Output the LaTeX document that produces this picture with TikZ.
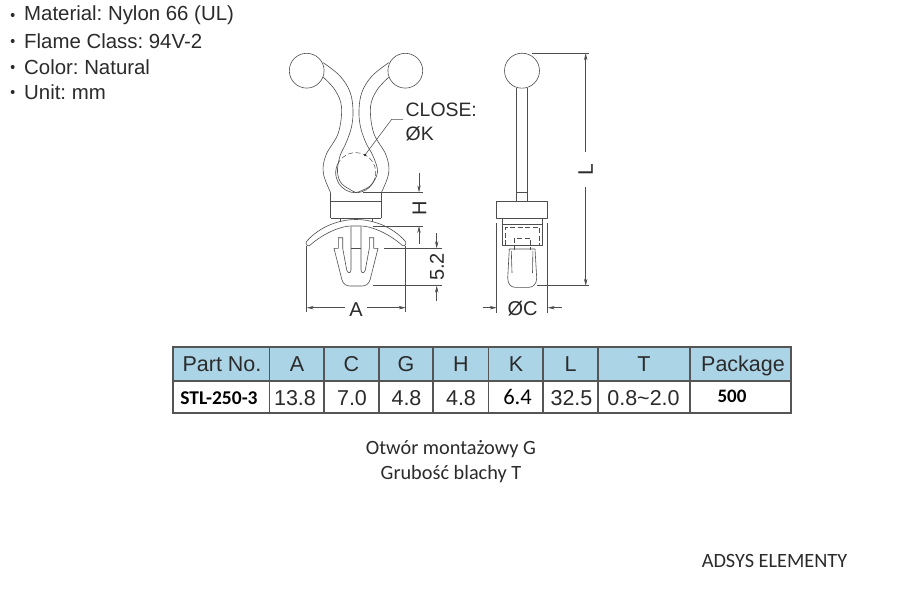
\documentclass[tikz,border=0pt]{standalone}
\usepackage{fontspec}
\setmainfont{Liberation Sans}
\newfontfamily\calfont{Carlito}
\usetikzlibrary{arrows.meta}
\definecolor{ink}{HTML}{4E4E4E}
\definecolor{gridc}{HTML}{555555}
\definecolor{headblue}{HTML}{ABD4E6}
\definecolor{txt}{HTML}{2B2B2B}
\frenchspacing
\tikzset{
  part/.style={draw=ink,line width=0.6pt,line join=round},
  hid/.style={draw=ink,line width=0.5pt,dash pattern=on 5pt off 2.5pt},
  dimline/.style={draw=ink,line width=0.55pt},
  dimarrow/.style={dimline,-{Stealth[length=7pt,width=3.4pt]}},
  dimtext/.style={inner sep=0pt,text=txt,font=\fontsize{20}{20}\selectfont},
  spec/.style={anchor=west,inner sep=0pt,text=txt,font=\fontsize{20.4}{21}\selectfont},
  dotb/.style={fill=txt,draw=none,circle,inner sep=0pt,minimum size=4pt},
  cell/.style={inner sep=0pt,text=txt,font=\fontsize{21.5}{22}\selectfont},
  boldv/.style={inner sep=0pt,text=black,font=\calfont\bfseries\fontsize{19.5}{20}\selectfont},
  note/.style={inner sep=0pt,anchor=base,text=txt,font=\calfont\fontsize{20.3}{21}\selectfont},
  grid/.style={draw=gridc,line width=1.1pt},
}
\begin{document}
\begin{tikzpicture}[x=1pt,y=-1pt]
\useasboundingbox (0,0) rectangle (909,596);
\fill[white] (0,0) rectangle (909,596);

% spec list
\foreach \n/\yy/\t in {a/15/{Material: Nylon 66 (UL)},b/41/{Flame Class: 94V-2},c/67/{Color: Natural},d/92/{Unit: mm}}{
  \node[dotb] (dot\n) at (12.7,\yy) {};
  \node[spec] (spec\n) at (24,\yy) {\t};
}

% ---------- front view ----------
\draw[part] (306.7,70.7) circle[radius=17.4pt];
\draw[part] (405.3,70.7) circle[radius=17.4pt];
% left arm
\draw[part] plot[smooth,tension=0.6] coordinates {(323.3,62.7) (340,76) (350,92) (353,110) (351.5,127) (346,143) (340,156) (337.5,172) (342,184) (356,192.7)};
\draw[part] plot[smooth,tension=0.6] coordinates {(323.3,77.3) (335,90) (341.5,107) (338.3,133) (326,155) (323.3,173) (330.7,192.7)};
% right arm
\draw[part] plot[smooth,tension=0.6] coordinates {(388.7,62.7) (372,76) (362,92) (359,110) (360.5,127) (366,143) (373,156) (377.5,172) (370,186) (356,192.7)};
\draw[part] plot[smooth,tension=0.6] coordinates {(388.7,77.3) (377,90) (370.5,107) (373.7,133) (386,155) (388.7,173) (381.3,192.7)};
% pocket circle
\draw[part] (375.02,177.9) arc[start angle=-15,end angle=-205,radius=20pt];
\draw[hid] (337.6,164.2) arc[start angle=155,end angle=-10,radius=20pt];
% body
\draw[part] (330.7,192.7) -- (330.7,218.3) (381.3,192.7) -- (381.3,218.3);
\draw[part] (330.7,201.7) -- (381.3,201.7) (330.7,218.3) -- (381.3,218.3);
\draw[part] (340,218.3) -- (340,221.5) (372,218.3) -- (372,221.5);
% washer
\draw[part] (309.6,245.5) .. controls (325,232) and (342,226) .. (351,226) -- (361,226) .. controls (370,226) and (387,232) .. (402.4,245.5)
  .. controls (404.5,247) and (407,243.5) .. (405.5,241.5)
  .. controls (392,226) and (372,219.5) .. (356,219.5)
  .. controls (340,219.5) and (320,226) .. (306.5,241.5)
  .. controls (305,243.5) and (307.5,247) .. (309.6,245.5) -- cycle;
% barb
\draw[part] (351,226.5) -- (351,270) .. controls (351,273.5) and (347.5,273.5) .. (346.7,270) -- (342.7,248.3) -- (342.7,237.7) -- (338.3,237.7) -- (338.3,248.3) -- (334,248.3)
 -- (341.7,279) .. controls (343,284) and (346,286) .. (350,286) -- (362,286) .. controls (366,286) and (369,284) .. (370.3,279) -- (378,248.3) -- (373.7,248.3) -- (373.7,237.7) -- (369.3,237.7) -- (369.3,248.3) -- (365.3,270) .. controls (364.5,273.5) and (361,273.5) .. (361,270) -- (361,226.5);
\draw[part] (351,248.3) -- (361,248.3);

% H dimension
\coordinate (hupL) at (363,192.3); \coordinate (hupR) at (423,192.3);
\coordinate (hloL) at (373,226); \coordinate (hloR) at (423,226);
\draw[dimline] (hupL) -- (hupR) (hloL) -- (hloR);
\coordinate (hTop) at (419,173); \coordinate (hTopTip) at (419,192.3);
\coordinate (hBot) at (419,244); \coordinate (hBotTip) at (419,226);
\draw[dimarrow] (hTop) -- (hTopTip);
\draw[dimarrow] (hBot) -- (hBotTip);
\node[dimtext,rotate=90] (hlab) at (419.5,208) {H};

% 5.2 dimension
\coordinate (fupL) at (384,248.3); \coordinate (fupR) at (442,248.3);
\coordinate (floL) at (373,285.7); \coordinate (floR) at (442,285.7);
\draw[dimline] (fupL) -- (fupR) (floL) -- (floR);
\coordinate (fTop) at (436.7,233); \coordinate (fTopTip) at (436.7,248.3);
\coordinate (fBot) at (436.7,301); \coordinate (fBotTip) at (436.7,285.7);
\draw[dimarrow] (fTop) -- (fTopTip);
\draw[dimarrow] (fBot) -- (fBotTip);
\node[dimtext,rotate=90] (flab) at (437,267) {5.2};

% A dimension
\coordinate (aL0) at (306.7,246); \coordinate (aL1) at (306.7,312);
\coordinate (aR0) at (405.7,246); \coordinate (aR1) at (405.7,312);
\draw[dimline] (aL0) -- (aL1) (aR0) -- (aR1);
\coordinate (aLs) at (345,307.7); \coordinate (aLt) at (306.7,307.7);
\coordinate (aRs) at (367,307.7); \coordinate (aRt) at (405.7,307.7);
\draw[dimarrow] (aLs) -- (aLt);
\draw[dimarrow] (aRs) -- (aRt);
\node[dimtext] (alab) at (356,309.5) {A};

% CLOSE leader
\node[dimtext,anchor=west,font=\fontsize{19.4}{20}\selectfont] (closelab) at (405.5,110) {CLOSE:};
\node[dimtext,anchor=west,font=\fontsize{19.4}{20}\selectfont] (klab) at (405.5,134) {ØK};
\coordinate (kDot) at (365,155);
\coordinate (kBend) at (391.7,119.3);
\coordinate (kEnd) at (403,119.3);
\draw[dimline] (kEnd) -- (kBend) -- (kDot);
\fill[txt] (kDot) circle[radius=1.4pt];

% ---------- side view ----------
\draw[part] (522,70.7) circle[radius=17.5pt];
\draw[part] (516.7,87.7) -- (516.7,201.7) (527.3,87.7) -- (527.3,201.7);
\draw[part] (516.7,192) -- (527.3,192);
\draw[part] (496.7,201.7) rectangle (547.7,218.3);
\draw[part] (502.7,218.3) -- (502.7,245) -- (542.3,245) -- (542.3,218.3);
\draw[part] (502.7,224.5) -- (542.3,224.5);
\draw[hid] (505,245) -- (505,227.5) -- (539.5,227.5) -- (539.5,245);
\draw[hid] (514,250) -- (514,238.3) -- (530.7,238.3) -- (530.7,250);
\draw[part] (509.3,249) -- (535,249) -- (536.7,278) .. controls (536.7,284) and (533,287.3) .. (529,287.3) -- (515,287.3) .. controls (511,287.3) and (507.7,284) .. (507.7,278) -- cycle;
\draw[part] (511.3,251) -- (512,273) (532.9,251) -- (532.5,273);

% L dimension
\coordinate (lupL) at (531.7,53.3); \coordinate (lupR) at (589.3,53.3);
\coordinate (lloL) at (536.7,285.7); \coordinate (lloR) at (589.3,285.7);
\draw[dimline] (lupL) -- (lupR) (lloL) -- (lloR);
\coordinate (lTop) at (585.7,152); \coordinate (lTopTip) at (585.7,53.3);
\coordinate (lBot) at (585.7,187); \coordinate (lBotTip) at (585.7,285.7);
\draw[dimarrow] (lTop) -- (lTopTip);
\draw[dimarrow] (lBot) -- (lBotTip);
\node[dimtext,rotate=90,font=\fontsize{21}{21}\selectfont] (llab) at (585.7,169.5) {L};

% C dimension
\coordinate (cL0) at (496.7,223); \coordinate (cL1) at (496.7,313);
\coordinate (cR0) at (547.7,223); \coordinate (cR1) at (547.7,313);
\draw[dimline] (cL0) -- (cL1) (cR0) -- (cR1);
\coordinate (cLs) at (482.7,307.7); \coordinate (cLt) at (496.7,307.7);
\coordinate (cRs) at (561.7,307.7); \coordinate (cRt) at (547.7,307.7);
\draw[dimarrow] (cLs) -- (cLt);
\draw[dimarrow] (cRs) -- (cRt);
\node[dimtext] (clab) at (522.5,309) {ØC};

% ---------- table ----------
\fill[headblue] (173,347) rectangle (791,381);
\draw[grid] (173,347) rectangle (791,413);
\draw[grid] (173,381) -- (791,381);
\foreach \xx in {269.3,324,379,433,488.7,543,598,690}{
  \draw[grid] (\xx,347) -- (\xx,413);
}
\node[cell] (hPart) at (222,364.5) {Part No.};
\node[cell] (hA) at (297,364.5) {A};
\node[cell] (hC) at (351.5,364.5) {C};
\node[cell] (hG) at (406,364.5) {G};
\node[cell] (hH) at (461,364.5) {H};
\node[cell] (hK) at (516,364.5) {K};
\node[cell] (hL) at (570.5,364.5) {L};
\node[cell] (hT) at (644,364.5) {T};
\node[cell] (hPack) at (743,365.5) {Package};
\node[boldv] (vPart) at (219,398.5) {STL-250-3};
\node[cell] (vA) at (295,398) {13.8};
\node[cell] (vC) at (352,398) {7.0};
\node[cell] (vG) at (406.5,398) {4.8};
\node[cell] (vH) at (461,398) {4.8};
\node[boldv,font=\calfont\fontsize{22.5}{23}\selectfont] (vK) at (517.5,397) {6.4};
\node[cell] (vL) at (571.5,398) {32.5};
\node[cell] (vT) at (643.5,398) {0.8\char"007E 2.0};
\node[boldv,font=\calfont\bfseries\fontsize{19}{19}\selectfont] (vPack) at (732,396) {500};

% notes
\node[note] (n1) at (451,454) {Otwór montażowy G};
\node[note] (n2) at (451,479) {Grubość blachy T};
\node[note] (n3) at (774.5,567.5) {ADSYS ELEMENTY};
\end{tikzpicture}
\end{document}
